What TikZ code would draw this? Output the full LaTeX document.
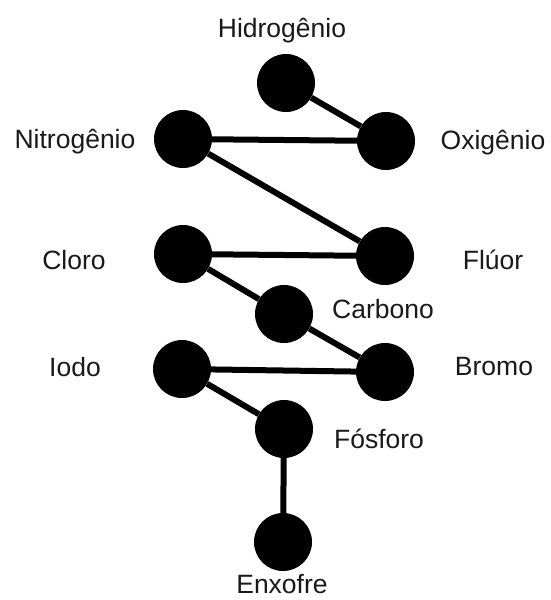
\documentclass[tikz,border=0pt]{standalone}
\usepackage{fontspec}
\setmainfont{Liberation Sans}
\begin{document}
\begin{tikzpicture}[x=1pt,y=-1pt,
  atom/.style={circle,fill=black,inner sep=0pt,minimum size=58pt},
  lbl/.style={inner sep=0pt,font=\fontsize{26.5}{31}\selectfont,text=black!90},
  bond/.style={line width=6pt,black}]
\useasboundingbox (0,0) rectangle (550,600);
\node[atom] (H) at (286,83) {};
\node[atom] (O) at (386,141) {};
\node[atom] (N) at (183,139) {};
\node[atom] (F) at (385,256) {};
\node[atom] (Cl) at (183,254) {};
\node[atom] (C) at (284,314) {};
\node[atom] (Br) at (385,372) {};
\node[atom] (I) at (182,369) {};
\node[atom] (P) at (284,429) {};
\node[atom] (S) at (283,542) {};
\draw[bond] (H) -- (O);
\draw[bond] (N) -- (O);
\draw[bond] (N) -- (F);
\draw[bond] (Cl) -- (F);
\draw[bond] (Cl) -- (C);
\draw[bond] (C) -- (Br);
\draw[bond] (I) -- (Br);
\draw[bond] (I) -- (P);
\draw[bond] (P) -- (S);
\node[lbl] (tH) at (282,31) {Hidrogênio};
\node[lbl] (tN) at (75,142) {Nitrogênio};
\node[lbl] (tO) at (493,143) {Oxigênio};
\node[lbl] (tCl) at (74,260) {Cloro};
\node[lbl] (tF) at (493,260) {Flúor};
\node[lbl] (tC) at (383,309) {Carbono};
\node[lbl] (tI) at (75,367) {Iodo};
\node[lbl] (tBr) at (494,367) {Bromo};
\node[lbl] (tP) at (379,439) {Fósforo};
\node[lbl] (tS) at (282,584) {Enxofre};
\end{tikzpicture}
\end{document}
